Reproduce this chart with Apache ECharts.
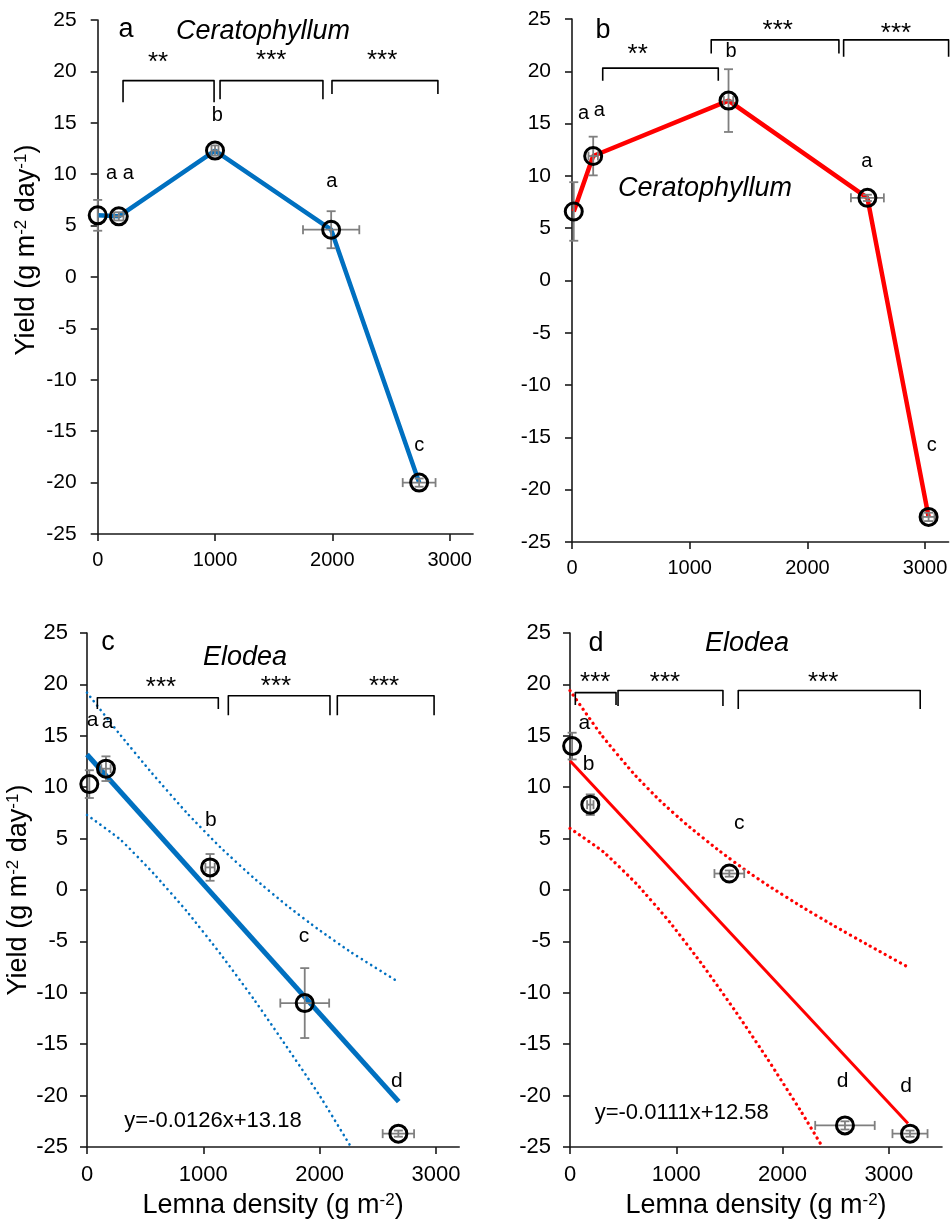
<!DOCTYPE html>
<html><head><meta charset="utf-8">
<script src="https://cdn.jsdelivr.net/npm/echarts@6/dist/echarts.min.js"></script>
<style>html,body{margin:0;padding:0;background:#fff}#chart{width:952px;height:1225px}</style>
</head><body><div id="chart"></div>
<script>
const FONT = 'Liberation Sans, Arial, Helvetica, sans-serif';
const BLUE = '#0070C0', RED = '#FF0000', ERR = '#7f7f7f', AXIS = '#1a1a1a';

// shared tick labels
const xTickValues = [0, 1000, 2000, 3000];
const yMin = -25, yMax = 25, yStep = 5;

// ---------- Panel a : Ceratophyllum (blue) ----------
const aX    = [0, 180, 1000, 1990, 2740];
const aY    = [6.0, 5.9, 12.3, 4.6, -20.0];
const aXErr = [0, 40, 30, 240, 140];
const aYErr = [1.5, 0.4, 0.5, 1.8, 0.4];
const aLetText = ['a', 'a', 'b', 'a', 'c'];
const aLetX = [119, 261, 1020, 1995, 2742];
const aLetY = [10.1, 10.1, 15.7, 9.3, -16.4];
const aBrStart = [216, 1043, 1997];
const aBrEnd   = [992, 1920, 2900];
const aBrTop   = [19.1, 19.1, 19.1];
const aBrBase  = [17.0, 17.3, 17.8];
const aStarText = ['**', '***', '***'];
const aStarX = [514, 1479, 2425];
const aStarY = [20.8, 21.0, 21.0];

// ---------- Panel b : Ceratophyllum (red) ----------
const bX    = [15, 180, 1330, 2510, 3030];
const bY    = [6.6, 11.9, 17.2, 7.9, -22.6];
const bXErr = [0, 40, 40, 140, 50];
const bYErr = [2.8, 1.85, 3.0, 0.3, 0.4];
const bLetText = ['a', 'a', 'b', 'a', 'c'];
const bLetX = [99, 232, 1351, 2504, 3056];
const bLetY = [16.0, 16.25, 21.9, 11.4, -15.8];
const bBrStart = [261, 1183, 2308];
const bBrEnd   = [1243, 2268, 3200];
const bBrTop   = [20.3, 23.0, 23.0];
const bBrBase  = [19.1, 21.7, 21.4];
const bStarText = ['**', '***', '***'];
const bStarX = [558, 1748, 2753];
const bStarY = [21.6, 23.9, 23.6];

// ---------- Panel c : Elodea (blue) ----------
const cX    = [20, 163, 1058, 1872, 2677];
const cY    = [10.3, 11.8, 2.2, -11.0, -23.7];
const cXErr = [0, 40, 40, 210, 135];
const cYErr = [1.35, 1.2, 1.3, 3.4, 0.3];
const cLetText = ['a', 'a', 'b', 'c', 'd'];
const cLetX = [49, 178, 1064, 1866, 2663];
const cLetY = [16.5, 16.3, 6.8, -4.5, -18.6];
const cBrStart = [89, 1215, 2152];
const cBrEnd   = [1129, 2089, 2984];
const cBrTop   = [18.7, 18.9, 18.9];
const cBrBase  = [17.6, 17.0, 17.0];
const cStarText = ['***', '***', '***'];
const cStarX = [636, 1625, 2554];
const cStarY = [19.7, 19.8, 19.8];
const cFitX = [0, 2680];
const cFitY = [13.18, -20.59];
const cUpX = [0, 269, 556, 860, 1146, 1433, 1720, 1989, 2276, 2663];
const cUpY = [19.2, 15.33, 11.4, 7.48, 4.16, 1.18, -1.52, -3.83, -6.1, -8.85];
const cLoX = [0, 287, 573, 860, 1146, 1433, 1720, 2000, 2270];
const cLoY = [7.3, 4.9, 1.6, -2.1, -6.2, -10.6, -15.3, -20.0, -25.0];
const cEqText = 'y=-0.0126x+13.18';
const cEqX = 1083, cEqY = -22.5;

// ---------- Panel d : Elodea (red) ----------
const dX    = [20, 191, 1499, 2587, 3199];
const dY    = [14.0, 8.3, 1.6, -22.9, -23.7];
const dXErr = [0, 30, 140, 280, 165];
const dYErr = [1.3, 1.0, 0.3, 0.4, 0.3];
const dLetText = ['a', 'b', 'c', 'd', 'd'];
const dLetX = [135, 176, 1593, 2565, 3161];
const dLetY = [16.2, 12.2, 6.5, -18.6, -19.1];
const dBrStart = [50, 452, 1583];
const dBrEnd   = [433, 1439, 3295];
const dBrTop   = [19.2, 19.4, 19.4];
const dBrBase  = [18.0, 17.9, 17.6];
const dStarText = ['***', '***', '***'];
const dStarX = [238, 894, 2383];
const dStarY = [20.2, 20.2, 20.2];
const dFitX = [0, 3180];
const dFitY = [12.58, -22.72];
const dUpX = [0, 295, 600, 847, 1098, 1411, 1662, 1866, 2176, 2490, 2803, 3180];
const dUpY = [19.4, 15.09, 11.31, 8.69, 6.36, 3.76, 1.85, 0.42, -1.6, -3.52, -5.34, -7.5];
const dLoX = [0, 314, 627, 941, 1254, 1568, 1863, 2176, 2370];
const dLoY = [6.0, 3.71, 0.58, -3.16, -7.39, -11.97, -16.51, -21.58, -24.9];
const dEqText = 'y=-0.0111x+12.58';
const dEqX = 1051, dEqY = -21.7;

// ---------- helpers ----------
const zip = (xs, ys) => xs.map((x, i) => [x, ys[i]]);

function errRender(params, api) {
  const x = api.value(0), y = api.value(1), ex = api.value(2), ey = api.value(3);
  const cap = 4.5;
  const style = { stroke: ERR, lineWidth: 1.8, fill: null };
  const ch = [];
  if (ey > 0) {
    const p1 = api.coord([x, y + ey]), p2 = api.coord([x, y - ey]);
    ch.push({ type: 'line', shape: { x1: p1[0], y1: p1[1], x2: p2[0], y2: p2[1] }, style });
    ch.push({ type: 'line', shape: { x1: p1[0] - cap, y1: p1[1], x2: p1[0] + cap, y2: p1[1] }, style });
    ch.push({ type: 'line', shape: { x1: p2[0] - cap, y1: p2[1], x2: p2[0] + cap, y2: p2[1] }, style });
  }
  if (ex > 0) {
    const p1 = api.coord([x - ex, y]), p2 = api.coord([x + ex, y]);
    ch.push({ type: 'line', shape: { x1: p1[0], y1: p1[1], x2: p2[0], y2: p2[1] }, style });
    ch.push({ type: 'line', shape: { x1: p1[0], y1: p1[1] - cap, x2: p1[0], y2: p1[1] + cap }, style });
    ch.push({ type: 'line', shape: { x1: p2[0], y1: p2[1] - cap, x2: p2[0], y2: p2[1] + cap }, style });
  }
  return { type: 'group', children: ch };
}

function textSeries(i, xs, ys, texts, size, z) {
  return {
    type: 'scatter', xAxisIndex: i, yAxisIndex: i, symbolSize: 0, z: z || 6,
    silent: true, animation: false, itemStyle: { opacity: 1 },
    data: xs.map((x, k) => ({ value: [x, ys[k]], name: texts[k] })),
    label: { show: true, position: 'inside', formatter: '{b}', color: '#000', opacity: 1,
             fontFamily: FONT, fontSize: size }
  };
}

function panelSeries(i, P) {
  const s = [];
  if (P.connect) {
    s.push({ type: 'line', xAxisIndex: i, yAxisIndex: i, data: zip(P.x, P.y), symbol: 'none',
             lineStyle: { color: P.color, width: 4.5 }, z: 2, animation: false });
  }
  if (P.fitX) {
    s.push({ type: 'line', xAxisIndex: i, yAxisIndex: i, data: zip(P.fitX, P.fitY), symbol: 'none',
             lineStyle: { color: P.color, width: P.fitW }, z: 2, animation: false });
    s.push({ type: 'line', xAxisIndex: i, yAxisIndex: i, data: zip(P.upX, P.upY), symbol: 'none', smooth: 0.15,
             lineStyle: { color: P.color, width: P.dotW, type: P.dash, cap: 'round' }, z: 2, animation: false });
    s.push({ type: 'line', xAxisIndex: i, yAxisIndex: i, data: zip(P.loX, P.loY), symbol: 'none', smooth: 0.15,
             lineStyle: { color: P.color, width: P.dotW, type: P.dash, cap: 'round' }, z: 2, animation: false });
  }
  s.push({ type: 'custom', xAxisIndex: i, yAxisIndex: i, renderItem: errRender, z: 3, animation: false,
           encode: { x: 0, y: 1 },
           data: P.x.map((x, k) => [x, P.y[k], P.xErr[k], P.yErr[k]]) });
  s.push({ type: 'scatter', xAxisIndex: i, yAxisIndex: i, data: zip(P.x, P.y), symbol: 'circle',
           symbolSize: 17, z: 4, animation: false,
           itemStyle: { color: 'rgba(0,0,0,0)', borderColor: '#000', borderWidth: 3, opacity: 1 } });
  P.brStart.forEach((x1, k) => {
    const x2 = P.brEnd[k], t = P.brTop[k], b = P.brBase[k];
    s.push({ type: 'line', xAxisIndex: i, yAxisIndex: i, symbol: 'none', z: 5, animation: false,
             data: [[x1, b], [x1, t], [x2, t], [x2, b]],
             lineStyle: { color: '#000', width: 1.6, join: 'round' } });
  });
  s.push(textSeries(i, P.starX, P.starY, P.starText, 26));
  s.push(textSeries(i, P.letX, P.letY, P.letText, P.letSize));
  if (P.eqText) s.push(textSeries(i, [P.eqX], [P.eqY], [P.eqText], 22));
  return s;
}

const panels = [
  { x: aX, y: aY, xErr: aXErr, yErr: aYErr, letText: aLetText, letX: aLetX, letY: aLetY, letSize: 20,
    brStart: aBrStart, brEnd: aBrEnd, brTop: aBrTop, brBase: aBrBase,
    starText: aStarText, starX: aStarX, starY: aStarY, color: BLUE, connect: true },
  { x: bX, y: bY, xErr: bXErr, yErr: bYErr, letText: bLetText, letX: bLetX, letY: bLetY, letSize: 20,
    brStart: bBrStart, brEnd: bBrEnd, brTop: bBrTop, brBase: bBrBase,
    starText: bStarText, starX: bStarX, starY: bStarY, color: RED, connect: true },
  { x: cX, y: cY, xErr: cXErr, yErr: cYErr, letText: cLetText, letX: cLetX, letY: cLetY, letSize: 21,
    brStart: cBrStart, brEnd: cBrEnd, brTop: cBrTop, brBase: cBrBase,
    starText: cStarText, starX: cStarX, starY: cStarY, color: BLUE,
    fitX: cFitX, fitY: cFitY, fitW: 5, upX: cUpX, upY: cUpY, loX: cLoX, loY: cLoY, dotW: 2.6, dash: [0.1, 5.4],
    eqText: cEqText, eqX: cEqX, eqY: cEqY },
  { x: dX, y: dY, xErr: dXErr, yErr: dYErr, letText: dLetText, letX: dLetX, letY: dLetY, letSize: 21,
    brStart: dBrStart, brEnd: dBrEnd, brTop: dBrTop, brBase: dBrBase,
    starText: dStarText, starX: dStarX, starY: dStarY, color: RED,
    fitX: dFitX, fitY: dFitY, fitW: 3, upX: dUpX, upY: dUpY, loX: dLoX, loY: dLoY, dotW: 3.2, dash: [0.1, 5.6],
    eqText: dEqText, eqX: dEqX, eqY: dEqY }
];

const grids = [
  { left: 97.7, top: 20, width: 375.4, height: 514 },
  { left: 572, top: 19, width: 376.6, height: 523 },
  { left: 87, top: 633, width: 372.2, height: 514 },
  { left: 570, top: 633, width: 372, height: 514 }
];
const xMaxes = [3200, 3200, 3200, 3500];
const xTickFont = [20, 20, 22, 22];
const yTickFont = [21, 21, 22, 22];
const xLabelMargin = [16, 16, 17, 17];
const yLabelMargin = [21, 21, 19, 19];

const richName = {
  n: { fontSize: 27, fontFamily: FONT, color: '#000' },
  s: { fontSize: 17, fontFamily: FONT, color: '#000', verticalAlign: 'top' }
};

const xAxes = grids.map((g, i) => ({
  type: 'value', gridIndex: i, min: 0, max: xMaxes[i], interval: 1000,
  axisLine: { onZero: false, lineStyle: { color: AXIS, width: 1.6 } },
  axisTick: { show: true, length: 7, customValues: xTickValues, lineStyle: { color: AXIS, width: 1.6 } },
  axisLabel: { customValues: xTickValues, formatter: v => String(v), color: '#000', fontFamily: FONT,
               fontSize: xTickFont[i], margin: xLabelMargin[i] },
  splitLine: { show: false },
  name: i >= 2 ? '{n|Lemna density (g m}{s|-2}{n|)}' : '',
  nameLocation: 'middle', nameGap: 45,
  nameTextStyle: { rich: richName }
}));

const yAxes = grids.map((g, i) => ({
  type: 'value', gridIndex: i, min: yMin, max: yMax, interval: yStep,
  axisLine: { onZero: false, lineStyle: { color: AXIS, width: 1.6 } },
  axisTick: { show: true, length: 7, lineStyle: { color: AXIS, width: 1.6 } },
  axisLabel: { formatter: v => String(v), color: '#000', fontFamily: FONT, fontSize: yTickFont[i], margin: yLabelMargin[i] },
  splitLine: { show: false },
  name: (i === 0 || i === 2) ? '{n|Yield (g m}{s|-2}{n| day}{s|-1}{n|)}' : '',
  nameLocation: 'middle', nameRotate: 90, nameGap: i === 0 ? 58 : 50,
  nameTextStyle: { rich: richName, padding: i === 0 ? [0, 0, 0, 54] : 0 }
}));

// panel letters and species names (layout text)
const titleText = [
  { t: 'a', x: 126, y: 30, italic: false },
  { t: 'Ceratophyllum', x: 263, y: 31, italic: true },
  { t: 'b', x: 603, y: 31, italic: false },
  { t: 'Ceratophyllum', x: 705, y: 188, italic: true },
  { t: 'c', x: 108, y: 643, italic: false },
  { t: 'Elodea', x: 245, y: 657, italic: true },
  { t: 'd', x: 596, y: 644, italic: false },
  { t: 'Elodea', x: 747, y: 643, italic: true }
];

let series = [];
panels.forEach((P, i) => { series = series.concat(panelSeries(i, P)); });

const chart = echarts.init(document.getElementById('chart'), null, { renderer: 'canvas' });
chart.setOption({
  backgroundColor: '#fff',
  animation: false,
  grid: grids,
  xAxis: xAxes,
  yAxis: yAxes,
  series: series,
  graphic: titleText.map(o => ({
    type: 'text', x: o.x, y: o.y, z: 10,
    style: { text: o.t, fill: '#000', fontFamily: FONT, fontSize: 27,
             fontStyle: o.italic ? 'italic' : 'normal', align: 'center', verticalAlign: 'middle' }
  }))
});
</script></body></html>
